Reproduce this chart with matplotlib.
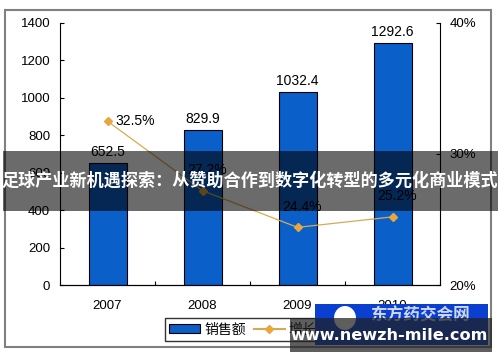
import matplotlib.pyplot as plt
from matplotlib.patches import Rectangle, Ellipse
from matplotlib.lines import Line2D
from matplotlib.patches import Patch

plt.rcParams['font.family'] = ['Liberation Sans', 'Noto Sans CJK SC', 'DejaVu Sans']

years = ['2007', '2008', '2009', '2010']
sales = [652.5, 829.9, 1032.4, 1292.6]
growth = [32.5, 27.2, 24.4, 25.2]
growth_labels = ['32.5%', '27.2%', '24.4%', '25.2%']
left_ticks = [0, 200, 400, 600, 800, 1000, 1200, 1400]
right_ticks = [20, 30, 40]
title = '足球产业新机遇探索：从赞助合作到数字化转型的多元化商业模式'

fig = plt.figure(figsize=(5, 3.62), dpi=100)
fig.patch.set_facecolor('white')
ax = fig.add_axes([0.12, 0.2127, 0.76, 0.7238])
x = list(range(len(years)))

ax.bar(x, sales, width=0.4, color='#0a5fc8', edgecolor='black', linewidth=0.8, zorder=2)
for xi, v in zip(x, sales):
    ax.annotate(f'{v}', (xi, v), xytext=(0, 3), textcoords='offset points',
                ha='center', va='bottom', fontsize=10)
ax.set_xlim(-0.5, 3.5)
ax.set_ylim(0, 1400)
ax.set_yticks(left_ticks)
ax.set_xticks([-0.5, 0.5, 1.5, 2.5, 3.5], minor=False)
ax.set_xticklabels([])
ax.set_xticks(x, minor=True)
ax.set_xticklabels(years, minor=True)
ax.tick_params(axis='x', which='minor', length=0, pad=11, labelsize=9.5)
ax.tick_params(axis='x', which='major', direction='in', length=3)
ax.tick_params(axis='y', direction='in', length=3, pad=7, labelsize=9.5)
ax.spines['top'].set_visible(False)
ax.spines['right'].set_visible(False)

ax2 = ax.twinx()
ax2.plot(x, growth, color='#d6aa55', linewidth=0.9, marker='D', markersize=4.5,
         markerfacecolor='#e8a63c', markeredgecolor='#e8a63c', zorder=3)
ax2.set_ylim(20, 40)
ax2.set_yticks(right_ticks)
ax2.set_yticklabels([f'{t}%' for t in right_ticks])
ax2.tick_params(axis='y', direction='in', length=3, pad=7, labelsize=9.5)
ax2.spines['top'].set_visible(False)
ax2.spines['left'].set_visible(False)
for i, (xi, g) in enumerate(zip(x, growth)):
    if i == 0:
        ax2.annotate(growth_labels[i], (xi, g), xytext=(6, 0), textcoords='offset points',
                     ha='left', va='center', fontsize=10)
    else:
        ax2.annotate(growth_labels[i], (xi, g), xytext=(3, 15), textcoords='offset points',
                     ha='center', va='center', fontsize=10)

handles = [Patch(facecolor='#0a5fc8', edgecolor='black', linewidth=0.8),
           Line2D([], [], color='#d6aa55', marker='D', markersize=4,
                  markerfacecolor='#e8a63c', markeredgecolor='#e8a63c')]
fig.legend(handles, ['销售额', '增长率'], loc='center', bbox_to_anchor=(0.5, 0.09),
           ncol=2, frameon=True, fancybox=False, edgecolor='black', fontsize=10,
           handlelength=2.2, handletextpad=0.3, columnspacing=0.6, borderpad=0.3)

# outer chart frame
fig.add_artist(Rectangle((0.01, 0.0414), 0.972, 0.931, transform=fig.transFigure,
                         fill=False, edgecolor='#808080', linewidth=1.5))

# title banner overlay
fig.add_artist(Rectangle((0.006, 1 - 211 / 362), 0.99, 60 / 362, transform=fig.transFigure,
                         facecolor='black', alpha=0.58, edgecolor='none', zorder=10))
fig.text(0.5, 1 - 181 / 362, title, color='white', fontsize=12.3, fontweight='bold',
         ha='center', va='center', zorder=11, family=['Noto Sans CJK SC', 'DejaVu Sans'])

# watermark
fig.add_artist(Rectangle((315 / 500, 1 - 345 / 362), 173 / 500, 41 / 362, transform=fig.transFigure,
                         facecolor='#0a3fd0', edgecolor='none', zorder=12))
fig.add_artist(Ellipse((345 / 500, 1 - 318 / 362), 22 / 500, 24 / 362, transform=fig.transFigure,
                       facecolor='white', edgecolor='none', zorder=13))
fig.text(420 / 500, 1 - 315 / 362, '东方药交会网', color='#d0d8f0', fontsize=12, fontweight='bold',
         ha='center', va='center', zorder=13, family=['Noto Sans CJK SC', 'DejaVu Sans'])
fig.add_artist(Rectangle((290 / 500, 1 - 352 / 362), 202 / 500, 34 / 362, transform=fig.transFigure,
                         facecolor='#202020', alpha=0.72, edgecolor='none', zorder=14))
fig.text(389 / 500, 1 - 335 / 362, 'www.newzh-mile.com', color='white', fontsize=11.6,
         fontweight='bold', ha='center', va='center', zorder=15, family='DejaVu Sans')

fig.savefig('out.png', dpi=100)
